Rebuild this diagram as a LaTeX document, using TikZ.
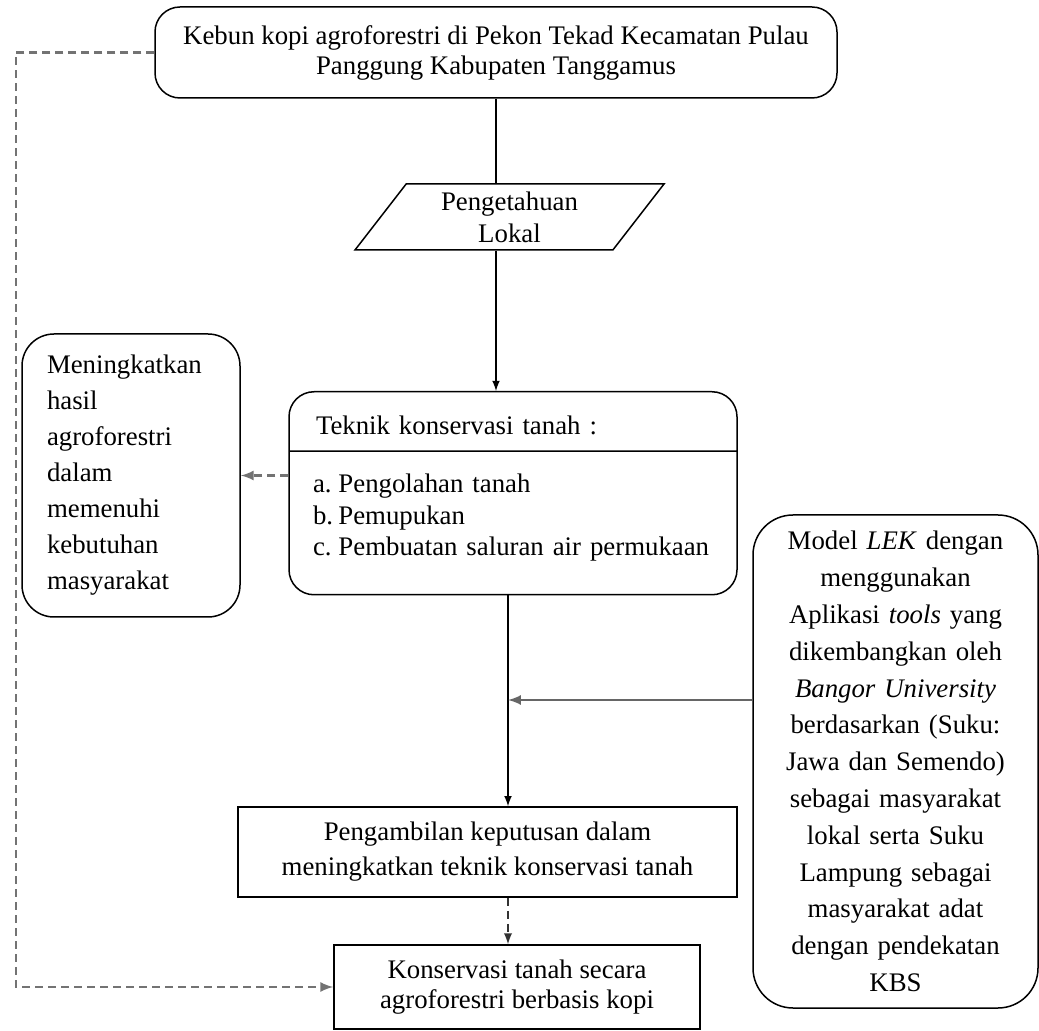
\documentclass[tikz,border=0pt]{standalone}
\usepackage{fontspec}
\setmainfont{Liberation Serif}
\usetikzlibrary{shapes}
\usetikzlibrary{arrows}

\begin{document}
\begin{tikzpicture}[x=0.5pt,y=-0.5pt]
				\tikzstyle{every node}=[font=\fontsize{13.4}{17.5}\selectfont]
				\tikzstyle{kotak}=[rectangle,draw,line width=0.75pt,inner sep=0pt,align=center]
				\tikzstyle{bulat}=[kotak,rounded corners=12.5pt]
				\tikzstyle{panah}=[->,>=latex,line width=0.75pt]
				\tikzstyle{putus}=[->,>=latex,dash pattern=on 4pt off 2.5pt,line width=1.2pt,black!55]
				\useasboundingbox (0,0) rectangle (1039,1031);
				\node[bulat,minimum width=341pt,minimum height=45.5pt,font=\fontsize{13.4}{15}\selectfont] (kebun) at (496,52.5) {Kebun kopi agroforestri di Pekon Tekad Kecamatan Pulau\\ Panggung Kabupaten Tanggamus};
				\node[trapezium,draw,line width=0.75pt,trapezium left angle=47,trapezium right angle=133,trapezium stretches body,minimum width=154.5pt,minimum height=33pt,inner xsep=2pt,inner ysep=1pt,align=center,font=\fontsize{13.4}{16}\selectfont] (pengetahuan) at (509.5,217) {Pengetahuan\\ Lokal};
				\node[draw,line width=0.75pt,rectangle split,rectangle split parts=2,rounded corners=12.5pt,text width=200pt,inner xsep=12pt,inner ysep=0pt,align=left,anchor=north,font=\fontsize{13.4}{15.75}\selectfont] (teknik) at (513,391) {\hspace*{1.5pt}\rule{0pt}{21pt}Teknik konservasi tanah :\rule[-8pt]{0pt}{8pt}
					\nodepart{two}\rule{0pt}{20.5pt}\makebox[0.95em][l]{a.}Pengolahan tanah\\ \makebox[0.95em][l]{b.}Pemupukan\\ \makebox[0.95em][l]{c.}Pembuatan saluran air permukaan\rule[-19pt]{0pt}{19pt}};
				\node[bulat,rounded corners=16pt,minimum width=109pt,minimum height=141.5pt,text width=84pt,align=left,font=\fontsize{13.4}{18}\selectfont] (meningkatkan) at (131,475.5) {Meningkatkan\\ hasil\\ agroforestri\\ dalam\\ memenuhi\\ kebutuhan\\ masyarakat};
				\node[bulat,rounded corners=20pt,minimum width=142.5pt,minimum height=246.5pt,text width=130pt,font=\fontsize{13.4}{18.4}\selectfont] (lek) at (895.5,761.5) {Model \textit{LEK} dengan\\ menggunakan\\ Aplikasi \textit{tools} yang\\ dikembangkan oleh\\ \textit{Bangor University}\\ berdasarkan (Suku:\\ Jawa dan Semendo)\\ sebagai masyarakat\\ lokal serta Suku\\ Lampung sebagai\\ masyarakat adat\\ dengan pendekatan\\ KBS};
				\node[kotak,minimum width=249.5pt,minimum height=45pt] (pengambilan) at (487.5,852) {Pengambilan keputusan dalam\\ meningkatkan teknik konservasi tanah};
				\node[kotak,minimum width=183pt,minimum height=42pt,font=\fontsize{13.4}{15}\selectfont] (konservasi) at (517,987) {Konservasi tanah secara\\ agroforestri berbasis kopi};
				\coordinate (tengah) at (508,700);
				\coordinate (sudut) at (16,52.5);
				\draw[line width=0.75pt] (kebun.south) -- (kebun.south |- pengetahuan.north);
				\draw[panah] (kebun.south |- pengetahuan.south) -- (kebun.south |- teknik.north);
				\draw[panah] (teknik.south -| tengah) -- (pengambilan.north -| tengah);
				\draw[panah,black!60,line width=1.2pt] (lek.west |- tengah) -- (tengah);
				\draw[putus] (teknik.west |- meningkatkan.east) -- (meningkatkan.east);
				\draw[putus,black!80,line width=0.9pt] (pengambilan.south -| tengah) -- (konservasi.north -| tengah);
				\draw[putus] (kebun.west) -- (sudut) |- (konservasi.west);
\end{tikzpicture}
\end{document}
